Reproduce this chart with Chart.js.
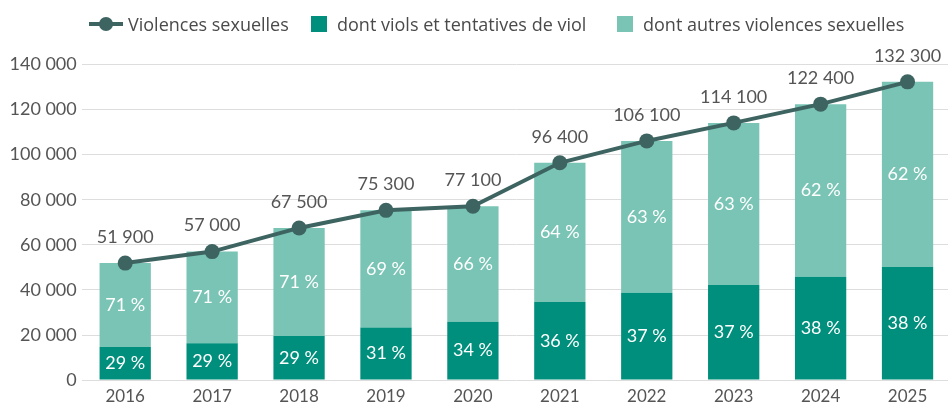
<!DOCTYPE html>
<html lang="fr">
<head>
  <meta charset="UTF-8">
  <title>Violences sexuelles 2016-2025</title>
  <script src="https://cdn.jsdelivr.net/npm/chart.js"></script>
  <style>
    html, body {
      margin: 0;
      padding: 0;
      background: #fff;
      overflow: hidden;
    }
    .wrap {
      position: relative;
      width: 948px;
      height: 404px;
      overflow: hidden;
    }
    .legend {
      position: absolute;
      top: 0;
      left: 0;
      width: 948px;
      height: 48px;
      font-family: "Open Sans", sans-serif;
      font-size: 18px;
      color: #4a4a4a;
    }
    .legend .item {
      position: absolute;
      top: 12px;
      height: 24px;
      display: flex;
      align-items: center;
      white-space: nowrap;
    }
    .legend .box {
      width: 16px;
      height: 16px;
      margin-right: 10px;
    }
    .legend .lineicon {
      position: relative;
      width: 34px;
      height: 20px;
      margin-right: 5px;
    }
    .legend .lineicon::before {
      content: "";
      position: absolute;
      left: 0; right: 0; top: 8px;
      height: 4px;
      background: #3d6461;
    }
    .legend .lineicon::after {
      content: "";
      position: absolute;
      left: 10px; top: 3px;
      width: 14px; height: 14px;
      border-radius: 50%;
      background: #3d6461;
    }
  </style>
</head>
<body>
  <div class="wrap">
    <canvas id="chart" width="951" height="404"></canvas>
    <div class="legend" id="legend"></div>
  </div>

  <script>
    const years = ['2016', '2017', '2018', '2019', '2020', '2021', '2022', '2023', '2024', '2025'];
    const totals = [51900, 57000, 67500, 75300, 77100, 96400, 106100, 114100, 122400, 132300];
    const viols = [14700, 16400, 19600, 23300, 25900, 34700, 38700, 42200, 45800, 50200];
    const autres = [37200, 40600, 47900, 52000, 51200, 61700, 67400, 71900, 76600, 82100];
    const pctViols = [29, 29, 29, 31, 34, 36, 37, 37, 38, 38];
    const pctAutres = [71, 71, 71, 69, 66, 64, 63, 63, 62, 62];

    const colLine = '#3d6461';
    const colDark = '#008f7c';
    const colLight = '#79c4b5';
    const txtGrey = '#555555';

    // séparateur des milliers en espace
    function fmt(n) {
      return String(n).replace(/\B(?=(\d{3})+(?!\d))/g, ' ');
    }

    // légende html
    const legend = document.getElementById('legend');
    legend.innerHTML =
      '<div class="item" style="left:89px"><span class="lineicon"></span>Violences sexuelles</div>' +
      '<div class="item" style="left:311px"><span class="box" style="background:' + colDark + '"></span>dont viols et tentatives de viol</div>' +
      '<div class="item" style="left:617px"><span class="box" style="background:' + colLight + '"></span>dont autres violences sexuelles</div>';

    const labelsPlugin = {
      id: 'valueLabels',
      afterDatasetsDraw(chart) {
        const ctx = chart.ctx;
        ctx.save();
        ctx.textAlign = 'center';
        ctx.textBaseline = 'middle';

        // pourcentages dans les barres
        ctx.font = '18px Lato, sans-serif';
        ctx.fillStyle = '#ffffff';
        [[1, pctViols], [2, pctAutres]].forEach(([idx, pcts]) => {
          chart.getDatasetMeta(idx).data.forEach((bar, i) => {
            const yMid = (bar.y + bar.base) / 2;
            ctx.fillText(pcts[i] + ' %', bar.x, yMid);
          });
        });

        // totaux au-dessus des points
        ctx.font = '18px Lato, sans-serif';
        ctx.fillStyle = txtGrey;
        chart.getDatasetMeta(0).data.forEach((pt, i) => {
          ctx.fillText(fmt(totals[i]), pt.x, pt.y - 26);
        });
        ctx.restore();
      }
    };

    const ctx = document.getElementById('chart').getContext('2d');
    const chart = new Chart(ctx, {
      type: 'bar',
      data: {
        labels: years,
        datasets: [
          {
            type: 'line',
            label: 'Violences sexuelles',
            data: totals,
            borderColor: colLine,
            backgroundColor: colLine,
            borderWidth: 4,
            pointRadius: 7.5,
            pointHoverRadius: 7.5,
            pointBackgroundColor: colLine,
            pointBorderWidth: 0,
            tension: 0,
            clip: false,
            order: 0
          },
          {
            label: 'dont viols et tentatives de viol',
            data: viols,
            backgroundColor: colDark,
            stack: 's',
            order: 1
          },
          {
            label: 'dont autres violences sexuelles',
            data: autres,
            backgroundColor: colLight,
            stack: 's',
            order: 1
          }
        ]
      },
      options: {
        responsive: false,
        animation: false,
        layout: {
          autoPadding: false,
          padding: { top: 64.5, left: 4.5, right: 0, bottom: -8.5 }
        },
        datasets: {
          bar: {
            categoryPercentage: 1.0,
            barPercentage: 0.59
          }
        },
        scales: {
          x: {
            stacked: true,
            grid: { display: false, drawTicks: false },
            border: { display: false },
            afterFit(scale) {
              scale.paddingLeft = 0;
              scale.paddingRight = 0;
            },
            ticks: {
              color: txtGrey,
              font: { family: 'Lato', size: 17 },
              padding: 6
            }
          },
          y: {
            stacked: true,
            min: 0,
            max: 140000,
            grid: { color: '#dddddd', drawTicks: false },
            border: { display: false },
            ticks: {
              stepSize: 20000,
              color: txtGrey,
              font: { family: 'Lato', size: 18 },
              padding: 5,
              callback: v => fmt(v)
            }
          }
        },
        plugins: {
          legend: { display: false },
          tooltip: { enabled: false }
        }
      },
      plugins: [labelsPlugin]
    });
  </script>
</body>
</html>
